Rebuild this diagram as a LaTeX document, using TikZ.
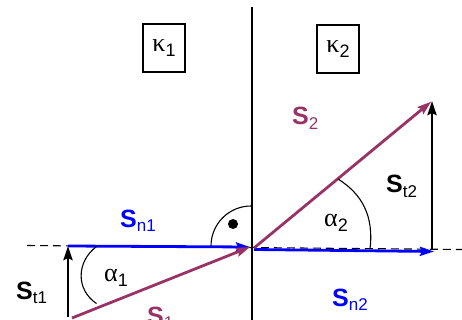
\documentclass[tikz,border=0pt]{standalone}
\usepackage{fontspec}
\setmainfont{Liberation Sans}
\newfontfamily\grk{Liberation Serif}
\usetikzlibrary{arrows.meta}
\definecolor{vpurple}{RGB}{153,51,102}
\definecolor{vblue}{RGB}{0,0,255}
\newcommand\vlab[2]{{\fontsize{25}{25}\selectfont\bfseries #1}{\fontsize{17}{17}\selectfont\raisebox{-4.5pt}{#2}}}
\newcommand\glab[2]{{\fontsize{26}{26}\selectfont\grk #1}{\fontsize{18}{18}\selectfont\raisebox{-5pt}{#2}}}
\tikzset{
  vec/.style={line width=2.8pt, -{Stealth[length=14pt,width=9pt,inset=2pt]}},
  thin/.style={line width=1.1pt},
  kbox/.style={draw, line width=1.2pt, minimum width=42pt, minimum height=48pt, inner sep=0pt},
  lbl/.style={anchor=base west, inner sep=0pt}
}
\begin{document}
\begin{tikzpicture}[x=1pt,y=-1pt]
\useasboundingbox (0,0) rectangle (462,320);
% interface
\coordinate (top) at (252,7);
\coordinate (bot) at (252,322);
\draw[thin] (top) -- (bot);
% normal dashed
\coordinate (dl) at (27,245.5);
\coordinate (dr) at (462,249.5);
\draw[thin, dash pattern=on 8pt off 5pt] (dl) -- (dr);
% points
\coordinate (A1) at (68,246);
\coordinate (B1) at (68,317);
\coordinate (P1) at (72,318);
\coordinate (O1) at (250,247);
\coordinate (O2) at (254,248);
\coordinate (T2) at (432,101);
\coordinate (F2) at (432,249);
\coordinate (N2) at (434,251.5);
\coordinate (O2n) at (254,249.5);
% boxes
\node[kbox] (k1) at (164,48) {\glab{κ}{1}};
\node[kbox] (k2) at (338,49) {\glab{κ}{2}};
% right angle mark
\draw[thin] (211,246) arc[start angle=180,end angle=270,radius=40];
\fill (233,224) circle (5pt);
% vectors
\draw[vec] (B1) -- (A1);
\draw[vec, vblue] (A1) -- (O1);
\draw[vec, vpurple] (P1) -- (O1);
\draw[vec] (F2) -- (T2);
\draw[vec, vblue] (O2n) -- (N2);
\draw[vec, vpurple, shorten >=1pt] (O2) -- (T2);
% angle arcs
\draw[thin] (96.5,246.5) .. controls (76,262) and (76,290) .. (96.5,303.5);
\draw[thin] (338,179) .. controls (362,194) and (374,216) .. (370,249);
% labels
\node[lbl, vblue] (sn1) at (120,227) {\vlab{S}{n1}};
\node[lbl] (st1) at (16,299) {\vlab{S}{t1}};
\node[lbl, vpurple] (s1) at (147,324) {\vlab{S}{1}};
\node[lbl, vpurple] (s2) at (292,125) {\vlab{S}{2}};
\node[lbl] (st2) at (386,193) {\vlab{S}{t2}};
\node[lbl, vblue] (sn2) at (332,306) {\vlab{S}{n2}};
\node[lbl] (a1) at (104,281) {\glab{α}{1}};
\node[lbl] (a2) at (324,226) {\glab{α}{2}};
\end{tikzpicture}
\end{document}
